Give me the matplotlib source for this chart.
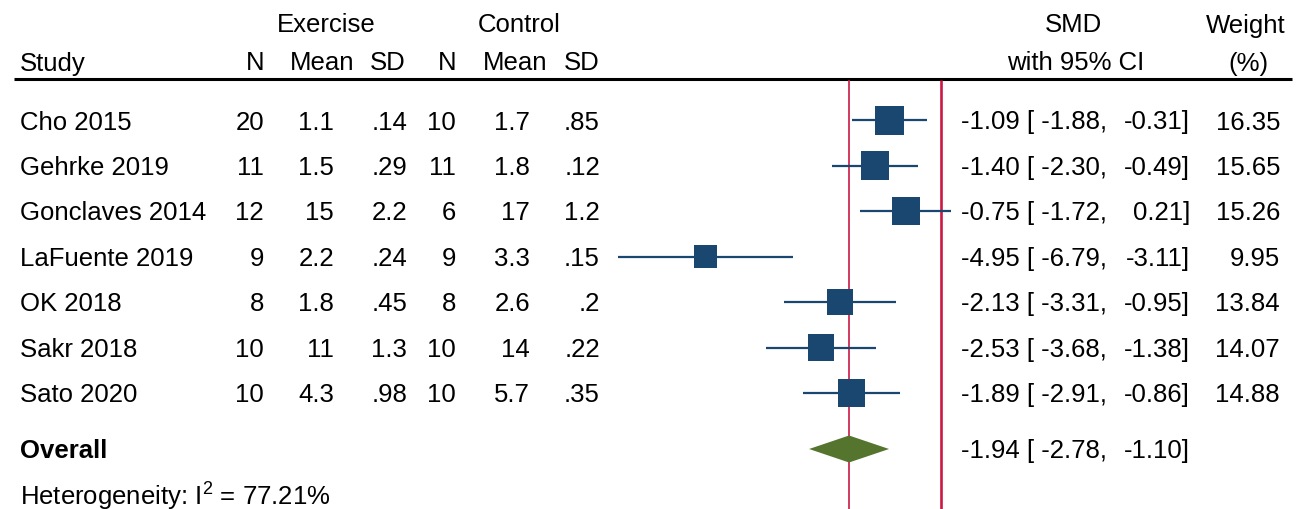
import numpy as np
import matplotlib
matplotlib.use("Agg")
import matplotlib.pyplot as plt

plt.rcParams["font.family"] = ["Liberation Sans", "DejaVu Sans"]
plt.rcParams["mathtext.fontset"] = "custom"
plt.rcParams["mathtext.rm"] = "Liberation Sans"

# ----------------- DATA -----------------
studies = ["Cho 2015", "Gehrke 2019", "Gonclaves 2014", "LaFuente 2019",
           "OK 2018", "Sakr 2018", "Sato 2020"]
n_ex = ["20", "11", "12", "9", "8", "10", "10"]
mean_ex = ["1.1", "1.5", "15", "2.2", "1.8", "11", "4.3"]
sd_ex = [".14", ".29", "2.2", ".24", ".45", "1.3", ".98"]
n_ct = ["10", "11", "6", "9", "8", "10", "10"]
mean_ct = ["1.7", "1.8", "17", "3.3", "2.6", "14", "5.7"]
sd_ct = [".85", ".12", "1.2", ".15", ".2", ".22", ".35"]
smd = [-1.09, -1.40, -0.75, -4.95, -2.13, -2.53, -1.89]
ci_lo = [-1.88, -2.30, -1.72, -6.79, -3.31, -3.68, -2.91]
ci_hi = [-0.31, -0.49, 0.21, -3.11, -0.95, -1.38, -0.86]
weight = [16.35, 15.65, 15.26, 9.95, 13.84, 14.07, 14.88]
overall = (-1.94, -2.78, -1.10)
i2 = 77.21

NAVY = "#1a476f"
GREEN = "#55752f"
RED = "#cc1844"
FS = 18.5

W, H = 1310, 510
fig = plt.figure(figsize=(W / 100, H / 100), dpi=100)

# layout axes in pixel units (for the table text)
lay = fig.add_axes([0, 0, 1, 1])
lay.set_xlim(0, W)
lay.set_ylim(H, 0)
lay.axis("off")

# forest axes: SMD on x, row index on y
row0, step = 121, 45.5
px0, ppu = 941.4, 47.6          # pixel of SMD = 0, pixels per SMD unit
ax = fig.add_axes([0, 0, 1, 1])
ax.set_xlim(-px0 / ppu, (W - px0) / ppu)
ax.set_ylim((H - row0) / step, -row0 / step)
ax.axis("off")

rows = np.arange(len(studies))
row_px = row0 + step * rows
ov_row = (450 - row0) / step
top_row = (81 - row0) / step
bot_row = (H + 5 - row0) / step
dy = 1.5  # text nudge


def txt(x, y, s, ha="left", **kw):
    lay.text(x, y + dy, s, ha=ha, va="center", fontsize=FS, **kw)


def ci_text(y, es, lo, hi):
    txt(961, y, f"{es:.2f} [ {lo:.2f},")
    txt(1190, y, f"{hi:.2f}]", ha="right")


# ----------------- HEADER -----------------
txt(326, 24, "Exercise", ha="center")
txt(519, 24, "Control", ha="center")
txt(1073, 24, "SMD", ha="center")
txt(1246, 24, "Weight", ha="center")
txt(20, 62, "Study")
txt(264, 62, "N", ha="right")
txt(322, 62, "Mean", ha="center")
txt(406, 62, "SD", ha="right")
txt(456, 62, "N", ha="right")
txt(515, 62, "Mean", ha="center")
txt(600, 62, "SD", ha="right")
txt(1076, 62, "with 95% CI", ha="center")
txt(1248, 62, "(%)", ha="center")
lay.plot([14, 1292], [80, 80], color="black", lw=2.2, solid_capstyle="butt")

# ----------------- TABLE -----------------
cols = [(264, n_ex), (334, mean_ex), (407, sd_ex), (456, n_ct),
        (530, mean_ct), (600, sd_ct)]
for i, y in enumerate(row_px):
    txt(20, y, studies[i])
    for x, vals in cols:
        txt(x, y, vals[i], ha="right")
    ci_text(y, smd[i], ci_lo[i], ci_hi[i])
    txt(1280, y, f"{weight[i]:.2f}", ha="right")

txt(20, 450, "Overall", fontweight="bold")
ci_text(450, *overall)
txt(20, 494, r"Heterogeneity: I$^{\mathrm{2}}$ = " + f"{i2:.2f}%")

# ----------------- FOREST -----------------
ax.vlines(overall[0], top_row, bot_row, color=RED, lw=1.2, zorder=1)
ax.vlines(0, top_row, bot_row, color=RED, lw=1.9, zorder=1)

ax.hlines(rows, ci_lo, ci_hi, color=NAVY, lw=1.6, zorder=2)
side_px = 29 * np.sqrt(np.array(weight) / max(weight))
ax.scatter(smd, rows, marker="s", s=(side_px * 72 / 100) ** 2,
           color=NAVY, linewidths=0, zorder=3)

half_h = 13.5 / step
ax.fill([overall[1], overall[0], overall[2], overall[0]],
        [ov_row, ov_row - half_h, ov_row, ov_row + half_h],
        color=GREEN, lw=0, zorder=3)

fig.savefig("out.png", dpi=100)
